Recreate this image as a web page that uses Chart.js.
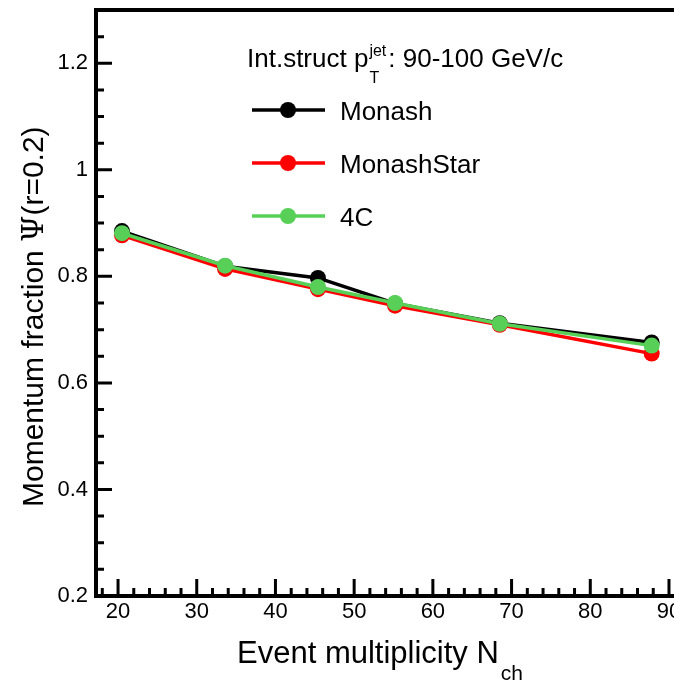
<!DOCTYPE html>
<html><head><meta charset="utf-8">
<script src="https://cdn.jsdelivr.net/npm/chart.js@4.4.1/dist/chart.umd.min.js"></script>
<style>
html,body{margin:0;padding:0;background:#fff;overflow:hidden;width:674px;height:682px;}
#wrap{width:700px;height:682px;position:relative;}
</style></head><body>
<div id="wrap"><canvas id="c" width="700" height="682"></canvas></div>
<script>
// ---- data ----
const multiplicity = [20.5, 33.6, 45.4, 55.2, 68.5, 87.8];
const monash       = [0.885, 0.819, 0.797, 0.749, 0.712, 0.676];
const monashStar   = [0.877, 0.814, 0.776, 0.745, 0.709, 0.655];
const tune4C       = [0.881, 0.820, 0.780, 0.750, 0.711, 0.670];
const seriesNames  = ['Monash', 'MonashStar', '4C'];
const xTickLabels  = [20, 30, 40, 50, 60, 70, 80, 90];
const yTickLabels  = [0.2, 0.4, 0.6, 0.8, 1, 1.2];
const xMinorStep = 2, yMinorStep = 0.05;
const headerText = {main: 'Int.struct p', sup: 'jet', sub: 'T', rest: ': 90-100 GeV/c'};
const xTitleText = {main: 'Event multiplicity N', sub: 'ch'};
const yTitleText = ['Momentum fraction ', 'Ψ', '(r=0.2)'];

const FONT = '"Liberation Sans", Arial, Helvetica, sans-serif';
const colors = ['#000000', '#ff0000', '#58d058'];

function pts(ys) { return multiplicity.map((x, i) => ({x, y: ys[i]})); }

const seriesValues = [monash, monashStar, tune4C];
const datasets = seriesNames.map((name, i) => ({
  label: name,
  data: pts(seriesValues[i]),
  borderColor: colors[i],
  backgroundColor: colors[i],
  pointBackgroundColor: colors[i],
  pointBorderColor: colors[i],
  borderWidth: 3.5,
  pointRadius: 8,
  pointBorderWidth: 0,
  pointHoverRadius: 8,
  tension: 0,
  fill: false,
  order: 2 - i
}));

const decor = {
  id: 'decor',
  beforeDatasetsDraw(chart) {
    const ctx = chart.ctx, a = chart.chartArea;
    const xs = chart.scales.x, ys = chart.scales.y;
    ctx.save();
    ctx.strokeStyle = '#000';
    ctx.lineWidth = 3;
    ctx.beginPath();
    const nx = Math.round((xs.max - 18) / xMinorStep);
    for (let i = 0; i <= nx; i++) {
      const v = 18 + i * xMinorStep;
      if (v > xs.max) break;
      const px = xs.getPixelForValue(v);
      const len = (v % 10 === 0) ? 17 : 8;
      ctx.moveTo(px, a.bottom); ctx.lineTo(px, a.bottom - len);
    }
    const ny = Math.round((ys.max - ys.min) / yMinorStep);
    for (let i = 0; i <= ny; i++) {
      const v = ys.min + i * yMinorStep;
      const py = ys.getPixelForValue(v);
      const len = (i % 4 === 0) ? 16 : 8;
      ctx.moveTo(a.left, py); ctx.lineTo(a.left + len, py);
    }
    ctx.stroke();
    ctx.lineWidth = 4;
    ctx.strokeRect(a.left, a.top, a.right - a.left, a.bottom - a.top);
    ctx.restore();
  },
  afterDraw(chart) {
    const ctx = chart.ctx;
    ctx.save();
    ctx.fillStyle = '#000';
    ctx.textBaseline = 'alphabetic';
    ctx.textAlign = 'left';
    // legend header
    let x = 247;
    ctx.font = '26px ' + FONT;
    ctx.fillText(headerText.main, x, 67);
    x += ctx.measureText(headerText.main).width + 1;
    ctx.font = '16px ' + FONT;
    ctx.fillText(headerText.sup, x, 56);
    ctx.fillText(headerText.sub, x, 83);
    x += Math.max(ctx.measureText(headerText.sup).width, ctx.measureText(headerText.sub).width) + 2;
    ctx.font = '26px ' + FONT;
    ctx.fillText(headerText.rest, x, 67);
    // legend entries
    const rowY = [110, 163, 216];
    chart.data.datasets.forEach((ds, i) => {
      const y = rowY[i];
      ctx.strokeStyle = ds.borderColor;
      ctx.lineWidth = ds.borderWidth;
      ctx.beginPath(); ctx.moveTo(252, y); ctx.lineTo(325, y); ctx.stroke();
      ctx.fillStyle = ds.pointBackgroundColor;
      ctx.beginPath(); ctx.arc(288, y, ds.pointRadius, 0, Math.PI * 2); ctx.fill();
      ctx.fillStyle = '#000';
      ctx.font = '26px ' + FONT;
      ctx.fillText(ds.label, 340, y + 9.5);
    });
    // x title
    ctx.font = '31px ' + FONT;
    ctx.fillText(xTitleText.main, 237, 663);
    const xw = ctx.measureText(xTitleText.main).width;
    ctx.font = '21px ' + FONT;
    ctx.fillText(xTitleText.sub, 237 + xw + 2, 680);
    // y title (rotated)
    ctx.translate(43, 507);
    ctx.rotate(-Math.PI / 2);
    let tx = 0;
    ctx.font = '30px ' + FONT;
    ctx.fillText(yTitleText[0], tx, 0); tx += ctx.measureText(yTitleText[0]).width;
    ctx.font = '30px "DejaVu Serif", serif';
    ctx.fillText(yTitleText[1], tx, 0); tx += ctx.measureText(yTitleText[1]).width;
    ctx.font = '30px ' + FONT;
    ctx.fillText(yTitleText[2], tx, 0);
    ctx.restore();
  }
};

new Chart(document.getElementById('c'), {
  type: 'line',
  data: {datasets},
  options: {
    responsive: false,
    animation: false,
    events: [],
    layout: {padding: {top: 10, right: 10, left: 0, bottom: 0}},
    plugins: {legend: {display: false}, title: {display: false}, tooltip: {enabled: false}},
    scales: {
      x: {
        type: 'linear', min: 17.2, max: 92.67,
        afterBuildTicks: s => { s.ticks = xTickLabels.map(v => ({value: v})); },
        afterFit: s => { s.height = 86; s.paddingLeft = 0; s.paddingRight = 0; },
        grid: {display: false, drawTicks: false},
        border: {display: false},
        ticks: {color: '#000', font: {family: FONT, size: 22}, padding: 3, maxRotation: 0, autoSkip: false,
                callback: v => String(v)}
      },
      y: {
        type: 'linear', min: 0.2, max: 1.3,
        afterBuildTicks: s => { s.ticks = yTickLabels.map(v => ({value: v})); },
        afterFit: s => { s.width = 96; s.paddingTop = 0; s.paddingBottom = 0; },
        grid: {display: false, drawTicks: false},
        border: {display: false},
        ticks: {color: '#000', font: {family: FONT, size: 22}, padding: 8, autoSkip: false,
                callback: v => String(+(+v).toFixed(2))}
      }
    }
  },
  plugins: [decor]
});
</script>
</body></html>
